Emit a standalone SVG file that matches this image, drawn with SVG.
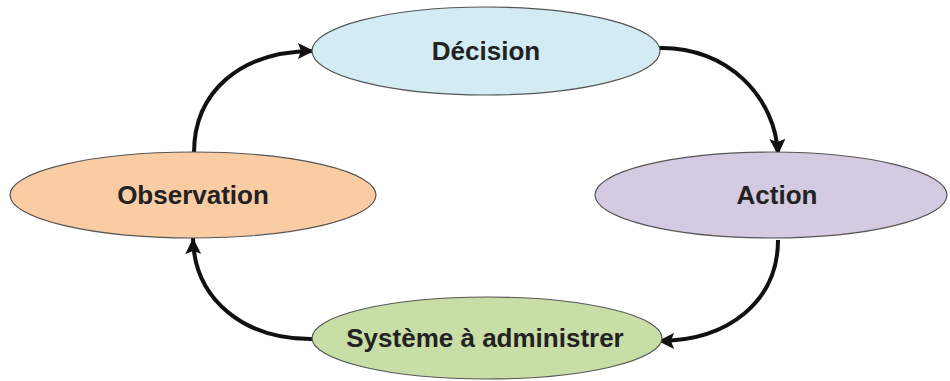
<svg xmlns="http://www.w3.org/2000/svg" width="950" height="381" viewBox="0 0 950 381">
<style>
.node ellipse{stroke:#555;stroke-width:1.2}
.node text{font-family:"Liberation Sans",Arial,sans-serif;font-weight:bold;font-size:26px;fill:#222;text-anchor:middle}
.conn path{fill:none;stroke:#111;stroke-width:4;marker-end:url(#ah)}
</style>
<defs>
<marker id="ah" markerUnits="userSpaceOnUse" markerWidth="18" markerHeight="16" refX="16" refY="8" orient="auto">
<path d="M0,0 L16,8 L0,16 L3,8 Z" fill="#111"/>
</marker>
</defs>
<rect width="950" height="381" fill="#fff"/>
<g class="conn">
<path d="M194,153 C194,92 240,51 314,51"/>
<path d="M658,48 C728,46 776,98 778,155"/>
<path d="M778,240 C778,300 730,341 658,341"/>
<path d="M313,339 C245,340 194,300 193,238"/>
</g>
<g id="decision" class="node">
<ellipse cx="486" cy="51" rx="174" ry="44" fill="#d3ecf3"/>
<text x="486" y="60">Décision</text>
</g>
<g id="observation" class="node">
<ellipse cx="193" cy="195" rx="183" ry="43" fill="#f9cca4"/>
<text x="193" y="204">Observation</text>
</g>
<g id="action" class="node">
<ellipse cx="771" cy="195" rx="176" ry="43" fill="#d4cae1"/>
<text x="777" y="204">Action</text>
</g>
<g id="systeme" class="node">
<ellipse cx="487" cy="338" rx="175" ry="41" fill="#c9dea6"/>
<text x="485" y="347">Système à administrer</text>
</g>
</svg>
